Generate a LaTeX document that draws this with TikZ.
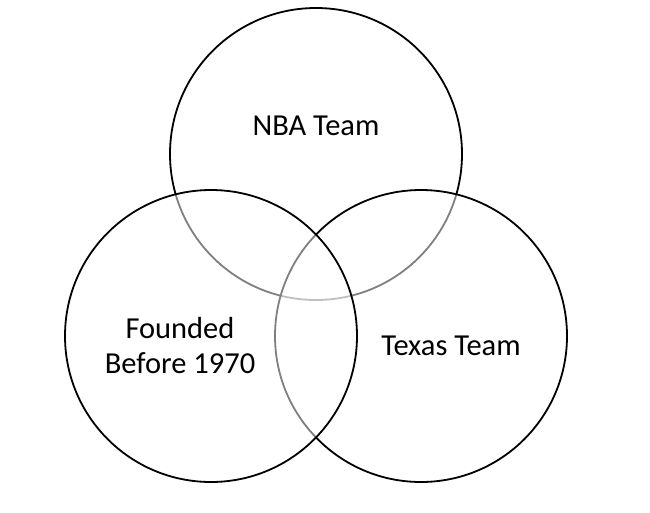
\documentclass[tikz,border=0pt]{standalone}
\usepackage{fontspec}
\setmainfont{Carlito}
\usepackage{tikz}

\tikzset{
  setcircle/.style={draw, circle, line width=1.8pt, minimum size=292pt,
    inner sep=0pt, fill=white, fill opacity=0.5, draw opacity=1},
  setlabel/.style={font=\fontsize{30.5}{35}\selectfont, align=center, inner sep=0pt, anchor=base}
}

\begin{document}
\begin{tikzpicture}[x=1pt, y=-1pt]
   \useasboundingbox (0,0) rectangle (650,512);
   \node[setcircle] (nba) at (316,154) {};
   \node[setcircle] (texas) at (421,336) {};
   \node[setcircle] (founded) at (211,336) {};
   \node[setlabel] (nbalabel) at (316,135) {NBA Team};
   \node[setlabel] (foundedlabel) at (180,373) {Founded\\Before 1970};
   \node[setlabel] (texaslabel) at (451,355) {Texas Team};
\end{tikzpicture}
\end{document}
